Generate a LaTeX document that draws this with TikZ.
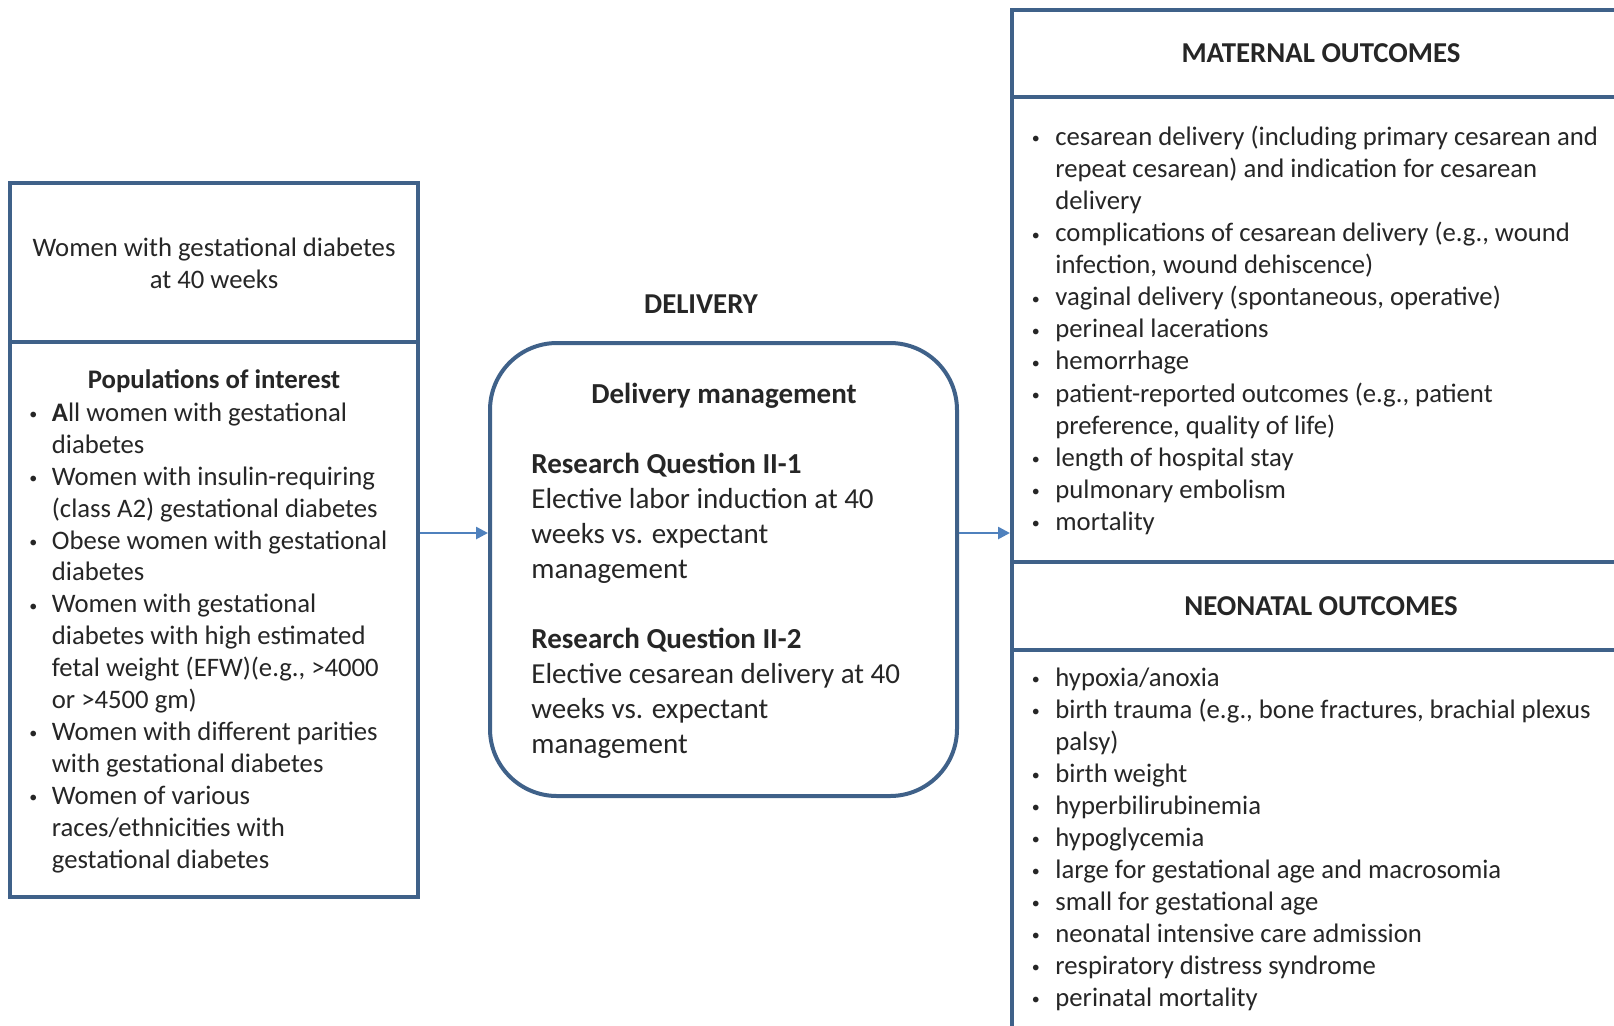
\documentclass[tikz,border=0pt]{standalone}
\usepackage{fontspec}
\setmainfont{Carlito}
\usetikzlibrary{arrows.meta}
\definecolor{boxblue}{HTML}{3F6189}
\definecolor{arrowblue}{HTML}{4F81BD}
\definecolor{txt}{HTML}{262626}
\newcommand\mybul[1]{\strut\makebox[#1][l]{\makebox[0pt][c]{\fontsize{8}{8}\selectfont\raisebox{0.8pt}{•}}}}
\newcommand\myind[1]{\strut\hspace*{#1}}
\begin{document}
\begin{tikzpicture}[x=0.5pt,y=-0.5pt,
  frame/.style={draw=boxblue, line width=2pt, inner sep=0pt},
  txtbase/.style={inner sep=0pt, text=txt, font=\fontsize{13.35}{15.95}\selectfont},
  listtext/.style={txtbase, align=left, anchor=north west},
  midtext/.style={inner sep=0pt, text=txt, font=\fontsize{14.5}{17.5}\selectfont, align=left, anchor=north west},
  headtext/.style={txtbase, font=\fontsize{14.4}{15.95}\selectfont\bfseries},
  connector/.style={draw=arrowblue, line width=1.3pt, -{Triangle[length=6pt,width=6pt]}}]
\useasboundingbox (0,0) rectangle (1614,1025);
\clip (0,0) rectangle (1614,1025);
\fill[white] (0,0) rectangle (1614,1025);

% left boxes
\node[frame, minimum width=204pt, minimum height=79.5pt] (topbox) at (214,262.5) {};
\node[frame, minimum width=204pt, minimum height=277.5pt] (popbox) at (214,619.5) {};
% middle rounded box
\node[frame, rounded corners=33.5pt, minimum width=233.5pt, minimum height=226.5pt] (mgmt) at (723.5,569.5) {};
% right boxes
\node[frame, minimum width=309pt, minimum height=43.5pt] (mathead) at (1321,53.5) {};
\node[frame, minimum width=309pt, minimum height=232.5pt] (matbody) at (1321,329.5) {};
\node[frame, minimum width=309pt, minimum height=44pt] (neohead) at (1321,606) {};
\node[frame, minimum width=309pt, minimum height=190pt] (neobody) at (1321,840) {};

% texts
\node[txtbase, align=center] (toptext) at (214,263.5) {Women with gestational diabetes\\at 40 weeks};
\node[txtbase, font=\fontsize{13.4}{15.95}\selectfont\bfseries, anchor=base] (poptitle) at (214,388) {Populations of interest};
\node[listtext] (poplist) at (33,398.7) {%
\mybul{9.25pt}\textbf{A}ll women with gestational\\
\myind{9.25pt}diabetes\\
\mybul{9.25pt}Women with insulin-requiring\\
\myind{9.25pt}(class A2) gestational diabetes\\
\mybul{9.25pt}Obese women with gestational\\
\myind{9.25pt}diabetes\\
\mybul{9.25pt}Women with gestational\\
\myind{9.25pt}diabetes with high estimated\\
\myind{9.25pt}fetal weight (EFW)(e.g., >4000\\
\myind{9.25pt}or >4500 gm)\\
\mybul{9.25pt}Women with different parities\\
\myind{9.25pt}with gestational diabetes\\
\mybul{9.25pt}Women of various\\
\myind{9.25pt}races/ethnicities with\\
\myind{9.25pt}gestational diabetes};

\node[headtext] (delivery) at (701,304) {DELIVERY};
\node[inner sep=0pt, text=txt, font=\fontsize{14.5}{17.5}\selectfont\bfseries, anchor=base] (mgmttitle) at (724,403) {Delivery management};
\node[midtext] (mgmtlist) at (531,448.5) {%
\strut\textbf{Research Question II-1}\\
\strut Elective labor induction at 40\\
\strut weeks vs. expectant\\
\strut management\\
\strut\\
\strut\textbf{Research Question II-2}\\
\strut Elective cesarean delivery at 40\\
\strut weeks vs. expectant\\
\strut management};

\node[headtext] (mattitle) at (mathead.center) {MATERNAL OUTCOMES};
\node[listtext, font=\fontsize{13.35}{16.04}\selectfont] (matlist) at (1035.5,122.5) {%
\mybul{9.75pt}cesarean delivery (including primary cesarean and\\
\myind{9.75pt}repeat cesarean) and indication for cesarean\\
\myind{9.75pt}delivery\\
\mybul{9.75pt}complications of cesarean delivery (e.g., wound\\
\myind{9.75pt}infection, wound dehiscence)\\
\mybul{9.75pt}vaginal delivery (spontaneous, operative)\\
\mybul{9.75pt}perineal lacerations\\
\mybul{9.75pt}hemorrhage\\
\mybul{9.75pt}patient-reported outcomes (e.g., patient\\
\myind{9.75pt}preference, quality of life)\\
\mybul{9.75pt}length of hospital stay\\
\mybul{9.75pt}pulmonary embolism\\
\mybul{9.75pt}mortality};

\node[headtext] (neotitle) at (neohead.center) {NEONATAL OUTCOMES};
\node[listtext, font=\fontsize{13.35}{16}\selectfont] (neolist) at (1035.5,663.5) {%
\mybul{9.75pt}hypoxia/anoxia\\
\mybul{9.75pt}birth trauma (e.g., bone fractures, brachial plexus\\
\myind{9.75pt}palsy)\\
\mybul{9.75pt}birth weight\\
\mybul{9.75pt}hyperbilirubinemia\\
\mybul{9.75pt}hypoglycemia\\
\mybul{9.75pt}large for gestational age and macrosomia\\
\mybul{9.75pt}small for gestational age\\
\mybul{9.75pt}neonatal intensive care admission\\
\mybul{9.75pt}respiratory distress syndrome\\
\mybul{9.75pt}perinatal mortality};

% connectors
\coordinate (ay) at (0,533);
\draw[connector] (popbox.east |- ay) -- (mgmt.west |- ay);
\draw[connector] (mgmt.east |- ay) -- (matbody.west |- ay);
\end{tikzpicture}
\end{document}
